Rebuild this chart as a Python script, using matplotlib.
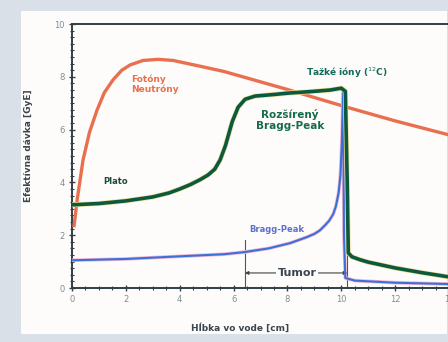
import numpy as np
import matplotlib
matplotlib.use('Agg')
import matplotlib.pyplot as plt
from matplotlib.patches import Rectangle
from matplotlib.ticker import MultipleLocator

# depth in water [cm] vs effective dose
foton_x = [0.07, 0.2, 0.41, 0.65, 0.93, 1.2, 1.52, 1.85, 2.16, 2.64, 3.2, 3.75, 4.3, 4.76, 5.65, 8.0, 10.2, 12.0, 14.0]
foton_y = [2.3, 3.4, 4.85, 5.9, 6.74, 7.4, 7.88, 8.25, 8.45, 8.62, 8.66, 8.62, 8.5, 8.4, 8.2, 7.52, 6.85, 6.33, 5.8]

ion_x = [0.0, 1.0, 2.0, 3.0, 3.6, 4.0, 4.4, 4.75, 5.05, 5.3, 5.5, 5.7, 5.95, 6.17, 6.43, 6.8, 7.5, 8.0, 9.0, 9.6, 10.0,
         10.15, 10.22, 10.26, 10.4, 10.7, 11.0, 12.0, 13.0, 14.0]
ion_y = [3.15, 3.2, 3.3, 3.45, 3.6, 3.75, 3.92, 4.1, 4.28, 4.5, 4.85, 5.4, 6.3, 6.85, 7.15, 7.27, 7.33, 7.38, 7.45, 7.5, 7.57,
         7.45, 4.0, 1.33, 1.18, 1.07, 0.98, 0.76, 0.58, 0.42]

bragg_x = [0.0, 2.0, 4.0, 5.65, 6.4, 7.3, 8.1, 8.7, 9.0, 9.2, 9.4, 9.55, 9.7, 9.8, 9.9, 9.97, 10.02, 10.07,
           10.1, 10.15, 10.5, 12.0, 14.0]
bragg_y = [1.05, 1.1, 1.2, 1.28, 1.36, 1.5, 1.7, 1.92, 2.05, 2.18, 2.38, 2.55, 2.8, 3.1, 3.6, 4.3, 5.5, 7.55,
           2.0, 0.38, 0.28, 0.2, 0.15]

tumor_od, tumor_do = 6.42, 10.22

fig = plt.figure(figsize=(4.48, 3.42), dpi=100)
fig.patch.set_facecolor('#d9e0e7')
fig.add_artist(Rectangle((21/448, 8/342), 426/448, 323/342, transform=fig.transFigure,
                         facecolor='#fdfcfa', edgecolor='none', zorder=0))

ax = fig.add_axes([72/448, 54/342, 377/448, 264/342])
ax.set_facecolor('none')

ax.plot(foton_x, foton_y, color='#e8704f', lw=2.4, solid_capstyle='butt', solid_joinstyle='round', zorder=3)
ax.plot(bragg_x, bragg_y, color='#f2b8d0', lw=2.6, solid_joinstyle='round', zorder=3)
ax.plot(bragg_x, bragg_y, color='#3d6fd8', lw=1.5, solid_joinstyle='round', zorder=4)
ax.plot(ion_x, ion_y, color='#f3df9a', lw=3.6, solid_joinstyle='round', zorder=5)
ax.plot(ion_x, ion_y, color='#0b5a40', lw=2.6, solid_joinstyle='round', zorder=6)

# tumor
ax.plot([tumor_od, tumor_od], [0, 1.8], color='#555555', lw=0.8, zorder=2)
ax.plot([tumor_do, tumor_do], [0, 1.8], color='#555555', lw=0.8, zorder=2)
ax.annotate('', xy=(tumor_od, 0.57), xytext=(tumor_do, 0.57),
            arrowprops=dict(arrowstyle='<|-|>', color='#444444', lw=0.8,
                            mutation_scale=5, shrinkA=0, shrinkB=0))
ax.text(8.36, 0.57, 'Tumor', ha='center', va='center', fontsize=8, fontweight='bold',
        color='#3b4650', bbox=dict(facecolor='#fdfcfa', edgecolor='none', pad=1), zorder=7)

ax.text(2.2, 7.73, 'Fotóny\nNeutróny', color='#e8704f', fontsize=6.5, fontweight='bold',
        linespacing=1.1, ha='left', va='center')
ax.text(10.2, 8.15, 'Tažké ióny ($^{12}$C)', color='#126b57', fontsize=6.5, fontweight='bold',
        ha='center', va='center')
ax.text(8.1, 6.35, 'Rozšírený\nBragg-Peak', color='#166b4b', fontsize=7.5, fontweight='bold',
        linespacing=1.1, ha='center', va='center')
ax.text(1.15, 4.05, 'Plato', color='#1d4a3a', fontsize=6, fontweight='bold', ha='left', va='center')
ax.text(7.6, 2.2, 'Bragg-Peak', color='#5d70d0', fontsize=6, fontweight='bold', ha='center', va='center')

ax.set_xlim(0, 14)
ax.set_ylim(0, 10)
ax.set_xticks(range(0, 15, 2))
ax.set_yticks(range(0, 11, 2))
ax.xaxis.set_minor_locator(MultipleLocator(0.5))
ax.yaxis.set_minor_locator(MultipleLocator(0.25))
ax.tick_params(axis='both', which='major', direction='inout', length=4, width=1,
               color='#3a3f45', labelsize=6, labelcolor='#7d8d9a', pad=3)
ax.tick_params(axis='both', which='minor', direction='inout', length=2.5, width=0.8, color='#3a3f45')
ax.tick_params(axis='x', top=False)

for s in ['left', 'bottom', 'top']:
    ax.spines[s].set_color('#2f4045')
    ax.spines[s].set_linewidth(1.4)
ax.spines['right'].set_visible(False)

ax.set_xlabel('Hĺbka vo vode [cm]', fontsize=6.5, fontweight='bold', color='#3a4550')
ax.set_ylabel('Efektívna dávka [GyE]', fontsize=6.5, fontweight='bold', color='#3a4550')
ax.xaxis.set_label_coords(0.446, -0.133)
ax.yaxis.set_label_coords(-0.103, 0.54)

fig.savefig('out.png', dpi=100)
